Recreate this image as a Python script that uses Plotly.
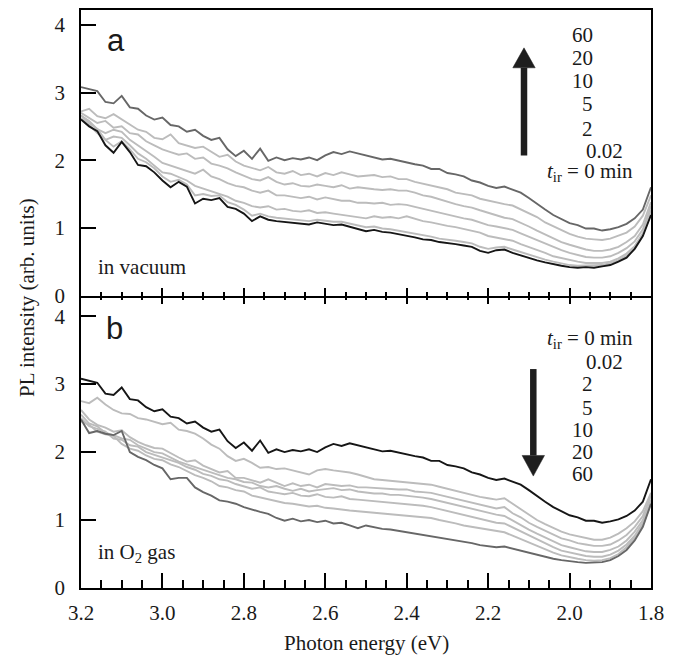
import plotly.graph_objects as go

# ---------------- data (photon energy in eV, PL intensity in arb. units) ----------------
energy = [3.20, 3.18, 3.16, 3.14, 3.12, 3.10, 3.08, 3.06, 3.04, 3.02,
          3.00, 2.98, 2.96, 2.94, 2.92, 2.90, 2.88, 2.86, 2.84, 2.82,
          2.80, 2.78, 2.76, 2.74, 2.72, 2.70, 2.68, 2.66, 2.64, 2.62,
          2.60, 2.58, 2.56, 2.54, 2.52, 2.50, 2.48, 2.46, 2.44, 2.42,
          2.40, 2.38, 2.36, 2.34, 2.32, 2.30, 2.28, 2.26, 2.24, 2.22,
          2.20, 2.18, 2.16, 2.14, 2.12, 2.10, 2.08, 2.06, 2.04, 2.02,
          2.00, 1.98, 1.96, 1.94, 1.92, 1.90, 1.88, 1.86, 1.84, 1.82,
          1.80]

# panel a: in vacuum
vac_0 = [2.60, 2.50, 2.43, 2.22, 2.11, 2.27, 2.12, 1.93, 1.91, 1.82,
         1.70, 1.60, 1.68, 1.61, 1.36, 1.43, 1.41, 1.44, 1.31, 1.28,
         1.21, 1.10, 1.17, 1.12, 1.10, 1.09, 1.08, 1.07, 1.05, 1.08,
         1.06, 1.04, 1.05, 1.02, 0.99, 0.95, 0.97, 0.94, 0.93, 0.91,
         0.89, 0.86, 0.83, 0.82, 0.79, 0.78, 0.76, 0.74, 0.72, 0.66,
         0.63, 0.67, 0.68, 0.63, 0.59, 0.56, 0.52, 0.49, 0.46, 0.44,
         0.42, 0.41, 0.42, 0.41, 0.43, 0.45, 0.50, 0.56, 0.69, 0.88,
         1.19]
vac_002 = [2.66, 2.55, 2.46, 2.30, 2.20, 2.28, 2.16, 2.02, 1.97, 1.88,
           1.76, 1.68, 1.71, 1.64, 1.48, 1.50, 1.47, 1.48, 1.38, 1.34,
           1.27, 1.18, 1.21, 1.17, 1.15, 1.14, 1.13, 1.12, 1.10, 1.12,
           1.10, 1.09, 1.09, 1.06, 1.04, 1.01, 1.02, 0.99, 0.98, 0.96,
           0.94, 0.91, 0.89, 0.87, 0.84, 0.83, 0.81, 0.79, 0.77, 0.72,
           0.69, 0.71, 0.72, 0.68, 0.64, 0.60, 0.56, 0.53, 0.50, 0.47,
           0.45, 0.44, 0.44, 0.44, 0.45, 0.48, 0.52, 0.59, 0.71, 0.90,
           1.20]
vac_2 = [2.62, 2.52, 2.40, 2.30, 2.35, 2.33, 2.22, 2.10, 2.02, 1.92,
         1.82, 1.80, 1.75, 1.70, 1.62, 1.58, 1.55, 1.50, 1.46, 1.40,
         1.37, 1.32, 1.30, 1.32, 1.27, 1.28, 1.25, 1.24, 1.26, 1.22,
         1.23, 1.21, 1.19, 1.18, 1.16, 1.14, 1.17, 1.15, 1.16, 1.14,
         1.17, 1.13, 1.10, 1.08, 1.05, 1.03, 1.01, 0.98, 0.96, 0.93,
         0.88, 0.86, 0.84, 0.81, 0.76, 0.72, 0.67, 0.63, 0.58, 0.55,
         0.52, 0.50, 0.48, 0.48, 0.48, 0.50, 0.55, 0.62, 0.73, 0.92,
         1.26]
vac_5 = [2.66, 2.58, 2.46, 2.40, 2.45, 2.42, 2.30, 2.22, 2.14, 2.05,
         1.96, 1.92, 1.88, 1.84, 1.80, 1.86, 1.76, 1.72, 1.66, 1.62,
         1.60, 1.55, 1.52, 1.55, 1.48, 1.48, 1.46, 1.44, 1.46, 1.42,
         1.45, 1.42, 1.40, 1.40, 1.37, 1.37, 1.36, 1.37, 1.34, 1.35,
         1.34, 1.31, 1.28, 1.26, 1.22, 1.19, 1.16, 1.14, 1.12, 1.08,
         1.04, 1.02, 0.99, 0.97, 0.92, 0.87, 0.81, 0.76, 0.71, 0.67,
         0.63, 0.60, 0.57, 0.56, 0.56, 0.58, 0.63, 0.70, 0.80, 0.98,
         1.32]
vac_10 = [2.70, 2.62, 2.55, 2.58, 2.48, 2.50, 2.40, 2.38, 2.28, 2.22,
          2.16, 2.12, 2.08, 2.10, 2.02, 2.04, 1.95, 1.92, 1.88, 1.82,
          1.77, 1.72, 1.70, 1.75, 1.68, 1.64, 1.66, 1.62, 1.61, 1.64,
          1.62, 1.60, 1.63, 1.58, 1.60, 1.58, 1.57, 1.56, 1.57, 1.55,
          1.55, 1.52, 1.48, 1.46, 1.42, 1.38, 1.35, 1.32, 1.30, 1.26,
          1.22, 1.18, 1.15, 1.13, 1.08, 1.02, 0.96, 0.90, 0.84, 0.79,
          0.75, 0.71, 0.68, 0.66, 0.66, 0.68, 0.72, 0.79, 0.88, 1.05,
          1.38]
vac_20 = [2.72, 2.76, 2.65, 2.62, 2.68, 2.60, 2.52, 2.45, 2.42, 2.33,
          2.31, 2.38, 2.25, 2.22, 2.18, 2.20, 2.12, 2.05, 2.08, 1.98,
          1.92, 1.88, 1.85, 1.90, 1.82, 1.80, 1.84, 1.78, 1.80, 1.76,
          1.81, 1.78, 1.82, 1.79, 1.76, 1.77, 1.78, 1.75, 1.76, 1.72,
          1.72, 1.68, 1.65, 1.62, 1.60, 1.57, 1.52, 1.50, 1.48, 1.43,
          1.40, 1.37, 1.35, 1.33, 1.27, 1.22, 1.16, 1.08, 1.02, 0.96,
          0.91, 0.87, 0.84, 0.83, 0.82, 0.84, 0.88, 0.93, 1.02, 1.18,
          1.48]
vac_60 = [3.08, 3.05, 3.02, 2.86, 2.84, 2.95, 2.78, 2.76, 2.66, 2.60,
          2.63, 2.52, 2.50, 2.42, 2.45, 2.36, 2.30, 2.33, 2.16, 2.06,
          2.14, 2.02, 2.17, 1.99, 2.04, 2.00, 2.03, 2.01, 2.04, 2.00,
          2.07, 2.12, 2.09, 2.13, 2.10, 2.07, 2.04, 2.01, 2.02, 1.99,
          1.97, 1.94, 1.92, 1.87, 1.87, 1.81, 1.79, 1.76, 1.70, 1.67,
          1.62, 1.59, 1.61, 1.56, 1.52, 1.44, 1.35, 1.27, 1.19, 1.13,
          1.07, 1.04, 0.99, 0.99, 0.96, 0.98, 1.01, 1.06, 1.14, 1.27,
          1.60]

# panel b: in O2 gas
o2_0 = [3.08, 3.05, 3.02, 2.86, 2.84, 2.95, 2.78, 2.76, 2.66, 2.60,
        2.63, 2.52, 2.50, 2.42, 2.45, 2.36, 2.30, 2.33, 2.16, 2.06,
        2.14, 2.02, 2.17, 1.99, 2.04, 2.00, 2.03, 2.01, 2.04, 2.00,
        2.07, 2.12, 2.09, 2.13, 2.10, 2.07, 2.04, 2.01, 2.02, 1.99,
        1.97, 1.94, 1.92, 1.87, 1.87, 1.81, 1.79, 1.76, 1.70, 1.67,
        1.62, 1.59, 1.61, 1.56, 1.52, 1.44, 1.35, 1.27, 1.19, 1.13,
        1.07, 1.04, 0.99, 0.99, 0.96, 0.98, 1.01, 1.06, 1.14, 1.27,
        1.60]
o2_002 = [2.75, 2.72, 2.80, 2.70, 2.62, 2.57, 2.56, 2.50, 2.48, 2.44,
          2.41, 2.43, 2.33, 2.31, 2.27, 2.20, 2.11, 2.05, 1.94, 1.87,
          1.90, 1.84, 1.77, 1.78, 1.75, 1.76, 1.73, 1.71, 1.67, 1.73,
          1.75, 1.73, 1.72, 1.70, 1.67, 1.63, 1.60, 1.59, 1.58, 1.56,
          1.55, 1.55, 1.53, 1.52, 1.49, 1.46, 1.42, 1.39, 1.37, 1.34,
          1.32, 1.30, 1.32, 1.24, 1.15, 1.07, 1.00, 0.94, 0.88, 0.83,
          0.79, 0.76, 0.73, 0.71, 0.71, 0.74, 0.80, 0.88, 0.98, 1.13,
          1.40]
o2_2 = [2.62, 2.48, 2.40, 2.36, 2.30, 2.32, 2.22, 2.15, 2.10, 2.06,
        2.05, 1.98, 1.92, 1.86, 1.88, 1.80, 1.75, 1.70, 1.72, 1.62,
        1.62, 1.58, 1.55, 1.60, 1.55, 1.50, 1.54, 1.50, 1.52, 1.48,
        1.53, 1.52, 1.50, 1.51, 1.48, 1.48, 1.47, 1.47, 1.46, 1.45,
        1.45, 1.42, 1.41, 1.40, 1.37, 1.34, 1.31, 1.28, 1.26, 1.22,
        1.20, 1.17, 1.19, 1.10, 1.04, 0.96, 0.90, 0.84, 0.78, 0.73,
        0.70, 0.66, 0.64, 0.62, 0.62, 0.64, 0.70, 0.78, 0.90, 1.06,
        1.36]
o2_5 = [2.55, 2.42, 2.38, 2.28, 2.25, 2.20, 2.18, 2.10, 2.05, 2.00,
        1.98, 1.92, 1.86, 1.82, 1.78, 1.75, 1.70, 1.66, 1.62, 1.60,
        1.56, 1.55, 1.50, 1.48, 1.50, 1.46, 1.43, 1.46, 1.42, 1.44,
        1.45, 1.47, 1.44, 1.45, 1.42, 1.40, 1.39, 1.39, 1.37, 1.37,
        1.36, 1.34, 1.33, 1.31, 1.28, 1.25, 1.22, 1.19, 1.16, 1.13,
        1.10, 1.08, 1.06, 0.99, 0.93, 0.86, 0.80, 0.74, 0.68, 0.63,
        0.60, 0.57, 0.54, 0.53, 0.53, 0.56, 0.61, 0.70, 0.83, 1.00,
        1.30]
o2_10 = [2.50, 2.38, 2.34, 2.30, 2.20, 2.18, 2.10, 2.08, 2.00, 1.96,
         1.93, 1.88, 1.84, 1.78, 1.74, 1.68, 1.65, 1.60, 1.58, 1.53,
         1.50, 1.46, 1.48, 1.42, 1.40, 1.38, 1.40, 1.36, 1.35, 1.38,
         1.34, 1.33, 1.35, 1.31, 1.30, 1.29, 1.28, 1.27, 1.26, 1.25,
         1.24, 1.23, 1.21, 1.19, 1.16, 1.13, 1.10, 1.07, 1.04, 1.01,
         0.99, 0.96, 0.95, 0.89, 0.83, 0.77, 0.71, 0.65, 0.60, 0.55,
         0.52, 0.49, 0.47, 0.46, 0.46, 0.49, 0.55, 0.64, 0.77, 0.96,
         1.26]
o2_20 = [2.45, 2.40, 2.30, 2.26, 2.24, 2.12, 2.05, 2.02, 1.95, 1.90,
         1.88, 1.82, 1.78, 1.72, 1.66, 1.62, 1.57, 1.50, 1.48, 1.44,
         1.42, 1.36, 1.33, 1.30, 1.28, 1.25, 1.24, 1.22, 1.20, 1.21,
         1.18, 1.17, 1.15, 1.14, 1.13, 1.12, 1.11, 1.10, 1.09, 1.08,
         1.07, 1.06, 1.04, 1.03, 1.00, 0.98, 0.95, 0.92, 0.90, 0.87,
         0.85, 0.83, 0.82, 0.77, 0.72, 0.66, 0.61, 0.56, 0.52, 0.48,
         0.45, 0.43, 0.41, 0.40, 0.41, 0.44, 0.50, 0.60, 0.74, 0.93,
         1.24]
o2_60 = [2.48, 2.28, 2.31, 2.27, 2.25, 2.31, 2.00, 1.93, 1.88, 1.81,
         1.76, 1.60, 1.62, 1.62, 1.48, 1.41, 1.36, 1.29, 1.27, 1.24,
         1.19, 1.15, 1.12, 1.09, 1.03, 0.99, 1.02, 0.98, 1.00, 0.97,
         0.99, 0.95, 0.96, 0.92, 0.88, 0.92, 0.89, 0.87, 0.86, 0.84,
         0.82, 0.80, 0.78, 0.77, 0.74, 0.72, 0.70, 0.68, 0.66, 0.63,
         0.62, 0.60, 0.61, 0.58, 0.55, 0.51, 0.48, 0.45, 0.43, 0.41,
         0.39, 0.38, 0.37, 0.37, 0.38, 0.41, 0.47, 0.56, 0.70, 0.90,
         1.24]

times_a = ["60", "20", "10", "5", "2", "0.02"]
times_b = ["0.02", "2", "5", "10", "20", "60"]

# ---------------- styling ----------------
BLACK = "#161616"
DARK = "#676767"
LIGHT = "#bcbcbc"
SERIF = "Liberation Serif, Times New Roman, Times, DejaVu Serif, serif"
SANS = "Liberation Sans, Arial, Helvetica, sans-serif"
TXT = "#1a1a1a"

W, H = 682, 656
ML, MR, MT, MB = 81, 31, 8, 68
PW, PH = W - ML - MR, H - MT - MB
SPLIT = 294.5  # pixel row of the shared border


def px(xp):
    return (xp - ML) / PW


def py(yp):
    return (H - MB - yp) / PH


fig = go.Figure()

def add(y, color, xa, ya, name):
    fig.add_trace(go.Scatter(x=energy, y=y, mode="lines", name=name,
                             line=dict(color=color, width=1.9),
                             xaxis=xa, yaxis=ya, showlegend=False,
                             hoverinfo="skip"))

for nm, ser in [("0.02", vac_002), ("2", vac_2), ("5", vac_5), ("10", vac_10), ("20", vac_20)]:
    add(ser, LIGHT, "x", "y", "vac " + nm)
add(vac_60, DARK, "x", "y", "vac 60")
add(vac_0, BLACK, "x", "y", "vac 0")

for nm, ser in [("20", o2_20), ("10", o2_10), ("5", o2_5), ("2", o2_2), ("0.02", o2_002)]:
    add(ser, LIGHT, "x2", "y2", "O2 " + nm)
add(o2_60, DARK, "x2", "y2", "O2 60")
add(o2_0, BLACK, "x2", "y2", "O2 0")

split_frac = py(SPLIT)
xr = [3.2, 1.8]
tickfont = dict(family=SERIF, size=21, color=TXT)

common_x = dict(range=xr, autorange=False, showgrid=False, zeroline=False,
                showline=True, linecolor="black", linewidth=1.5,
                ticks="inside", tickcolor="black", tickwidth=1.5,
                tick0=1.8, dtick=0.2)

fig.update_layout(
    width=W, height=H, autosize=False,
    margin=dict(l=ML, r=MR, t=MT, b=MB, pad=0),
    paper_bgcolor="white", plot_bgcolor="white",
    font=dict(family=SERIF, size=21, color=TXT),
    xaxis=dict(**common_x, anchor="y", domain=[0, 1], mirror=True,
               ticklen=8, showticklabels=False,
               minor=dict(dtick=0.05, tick0=1.8, ticklen=4, ticks="inside",
                          tickcolor="black", tickwidth=1.5, showgrid=False)),
    xaxis2=dict(**common_x, anchor="y2", domain=[0, 1], mirror=False,
                ticklen=15, showticklabels=True, tickformat=".1f",
                tickfont=tickfont, ticklabelstandoff=5,
                minor=dict(dtick=0.05, tick0=1.8, ticklen=8, ticks="inside",
                           tickcolor="black", tickwidth=1.5, showgrid=False)),
    xaxis3=dict(range=xr, autorange=False, overlaying="x2", anchor="y2",
                side="top", showgrid=False, zeroline=False, showline=False,
                ticks="inside", ticklen=8, tickcolor="black", tickwidth=1.5,
                tick0=1.8, dtick=0.2, showticklabels=False,
                minor=dict(dtick=0.05, tick0=1.8, ticklen=4, ticks="inside",
                           tickcolor="black", tickwidth=1.5, showgrid=False)),
    yaxis=dict(domain=[split_frac, 1], range=[0, (SPLIT - MT) / 67.9],
               autorange=False, anchor="x", showgrid=False, zeroline=False,
               showline=True, linecolor="black", linewidth=1.5, mirror=True,
               ticks="inside", ticklen=15, tickwidth=1.5, tickcolor="black",
               tickvals=[0, 1, 2, 3, 4], tickfont=tickfont,
               ticklabelstandoff=10),
    yaxis2=dict(domain=[0, split_frac], range=[0, (H - MB - SPLIT) / 68.2],
                autorange=False, anchor="x2", showgrid=False, zeroline=False,
                showline=True, linecolor="black", linewidth=1.5, mirror=True,
                ticks="inside", ticklen=15, tickwidth=1.5, tickcolor="black",
                tickvals=[0, 1, 2, 3, 4], tickfont=tickfont,
                ticklabelstandoff=10),
)

# invisible trace so that the overlay tick axis (x3) is drawn
fig.add_trace(go.Scatter(x=[2.5], y=[-1], xaxis="x3", yaxis="y2", mode="markers",
                         marker=dict(opacity=0), showlegend=False, hoverinfo="skip"))

ann = []

def text(xp, yp, s, size=21, family=SERIF, xanchor="left", yanchor="middle"):
    ann.append(dict(x=px(xp), y=py(yp), xref="paper", yref="paper", text=s,
                    showarrow=False, xanchor=xanchor, yanchor=yanchor,
                    font=dict(family=family, size=size, color=TXT)))

# axis titles
text(366, 643, "Photon energy (eV)", xanchor="center")
ann.append(dict(x=px(27), y=py(297), xref="paper", yref="paper",
                text="PL intensity (arb. units)", textangle=-90, showarrow=False,
                xanchor="center", yanchor="middle",
                font=dict(family=SERIF, size=21, color=TXT)))

# panel letters
text(105, 39, "a", size=31, family=SANS)
text(104, 328, "b", size=31, family=SANS)

# environment labels
text(96, 266, "in vacuum")
text(96, 553, "in O<sub>2</sub> gas")

# panel a labels (top to bottom)
ya = [33, 56, 79.5, 102.5, 127.5]
for s, yv in zip(times_a[:5], ya):
    text(594.5, yv, s, xanchor="right")
text(584, 149, times_a[5])
text(545, 171, "<i>t</i><sub>ir</sub> = 0 min")

# panel b labels
text(545, 338, "<i>t</i><sub>ir</sub> = 0 min")
text(584, 361, times_b[0])
yb = [383, 407, 429.5, 452, 474]
for s, yv in zip(times_b[1:], yb):
    text(595, yv, s, xanchor="right")

fig.update_layout(annotations=ann)

# arrows (shaft + head), drawn in paper coordinates
ARROW = "#1e1e1e"
shapes = []
def arrow(xc, y_tail, y_base, y_tip, half=11.2):
    shapes.append(dict(type="line", xref="paper", yref="paper",
                       x0=px(xc), x1=px(xc), y0=py(y_tail), y1=py(y_base),
                       line=dict(color=ARROW, width=6.5)))
    path = "M {} {} L {} {} L {} {} Z".format(px(xc - half), py(y_base),
                                              px(xc + half), py(y_base),
                                              px(xc), py(y_tip))
    shapes.append(dict(type="path", xref="paper", yref="paper", path=path,
                       fillcolor=ARROW, line=dict(color=ARROW, width=0.5)))

arrow(524, 154, 66, 46)
arrow(533.3, 368.3, 455, 475.7)
fig.update_layout(shapes=shapes)

fig.write_html("out.html")
